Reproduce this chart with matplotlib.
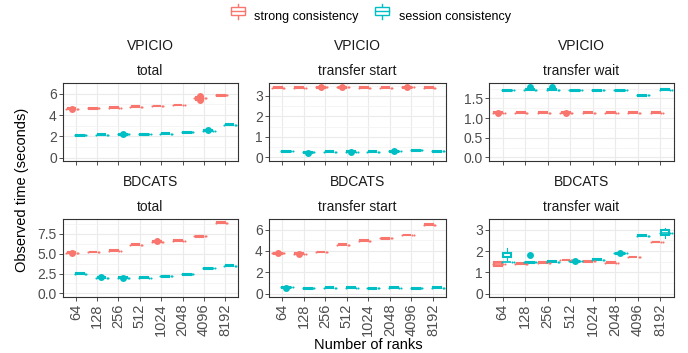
import numpy as np
import matplotlib
matplotlib.use("Agg")
import matplotlib.pyplot as plt
from matplotlib.patches import Rectangle
from matplotlib.lines import Line2D
from matplotlib.legend_handler import HandlerBase

plt.rcParams['font.family'] = ['Liberation Sans', 'DejaVu Sans']

ranks = ["64", "128", "256", "512", "1024", "2048", "4096", "8192"]
benchmarks = ["VPICIO", "VPICIO", "VPICIO", "BDCATS", "BDCATS", "BDCATS"]
metrics = ["total", "transfer start", "transfer wait",
           "total", "transfer start", "transfer wait"]
groups = ["strong consistency", "session consistency"]

# medians per facet (strong, session)
strong_med = [
    [4.6, 4.65, 4.7, 4.8, 4.85, 4.95, 5.6, 5.85],
    [3.4, 3.4, 3.42, 3.42, 3.4, 3.4, 3.42, 3.4],
    [1.13, 1.13, 1.13, 1.13, 1.13, 1.13, 1.13, 1.13],
    [5.1, 5.2, 5.35, 6.1, 6.5, 6.6, 7.2, 8.9],
    [3.8, 3.75, 3.9, 4.6, 4.95, 5.2, 5.5, 6.45],
    [1.4, 1.4, 1.45, 1.58, 1.52, 1.45, 1.72, 2.42],
]
session_med = [
    [2.1, 2.15, 2.2, 2.2, 2.25, 2.4, 2.55, 3.1],
    [0.3, 0.25, 0.28, 0.28, 0.28, 0.3, 0.35, 0.3],
    [1.7, 1.72, 1.72, 1.7, 1.7, 1.7, 1.58, 1.72],
    [2.5, 2.0, 2.0, 2.0, 2.15, 2.4, 3.15, 3.5],
    [0.6, 0.5, 0.55, 0.55, 0.5, 0.55, 0.5, 0.55],
    [1.48, 1.48, 1.5, 1.52, 1.6, 1.9, 2.72, 2.85],
]
# (facet, group, rank index) -> (q1, q3, whisker low, whisker high)
wide_boxes = {
    (5, 1, 0): (1.72, 1.9, 1.6, 2.15),
    (5, 1, 7): (2.75, 3.0, 2.6, 3.1),
    (5, 0, 0): (1.32, 1.5, 1.3, 1.52),
    (0, 0, 6): (5.45, 5.7, 5.3, 5.8),
}
# clusters of overlapping outliers: (facet, group, rank index, value)
blobs = [
    (0, 0, 0, 4.6), (0, 0, 6, 5.75), (0, 0, 6, 5.4), (0, 1, 2, 2.25), (0, 1, 6, 2.6),
    (1, 0, 2, 3.45), (1, 0, 3, 3.42), (1, 0, 6, 3.42), (1, 1, 1, 0.2),
    (1, 1, 3, 0.28), (1, 1, 5, 0.3),
    (2, 0, 0, 1.14), (2, 0, 3, 1.13), (2, 1, 1, 1.78), (2, 1, 2, 1.8),
    (3, 0, 0, 5.1), (3, 0, 4, 6.55), (3, 1, 1, 2.1), (3, 1, 2, 2.0),
    (4, 0, 0, 3.8), (4, 0, 1, 3.7), (4, 1, 0, 0.5),
    (5, 1, 1, 1.82), (5, 1, 3, 1.52), (5, 1, 5, 1.9),
]
yticks = [[0, 2, 4, 6], [0, 1, 2, 3], [0, 0.5, 1.0, 1.5],
          [0, 2.5, 5.0, 7.5], [0, 2, 4, 6], [0, 1, 2, 3]]
ytick_fmt = ["{:g}", "{:g}", "{:.1f}", "{:.1f}", "{:g}", "{:g}"]
ytops = [5.9, 3.45, 1.8, 8.9, 6.45, 3.1]

colors = ["#F8766D", "#00BFC4"]
W, H = 688, 353
col_x = [(63, 238), (269, 446), (489, 674)]
row_y = [(83, 161), (219, 297)]
dodge = [-0.2, 0.2]
dot_offsets = [0.24, 0.3]

fig = plt.figure(figsize=(W / 100, H / 100), dpi=100)


def add_panel(x0, x1, y0, y1):
    return fig.add_axes([x0 / W, 1 - y1 / H, (x1 - x0) / W, (y1 - y0) / H])


for f in range(6):
    r, c = divmod(f, 3)
    ax = add_panel(col_x[c][0], col_x[c][1], row_y[r][0], row_y[r][1])
    top = ytops[f]
    span = top * 1.1
    ax.set_ylim(-0.05 * top, 1.05 * top)
    ax.set_xlim(0.4, 8.6)
    xs = np.arange(1, 9)
    for g, meds in enumerate([strong_med[f], session_med[f]]):
        col = colors[g]
        stats = []
        for i, m in enumerate(meds):
            d = span * 0.006
            q1, q3, lo, hi = wide_boxes.get((f, g, i), (m - d, m + d, m - d, m + d))
            stats.append(dict(med=m, q1=q1, q3=q3, whislo=lo, whishi=hi, fliers=[]))
            for off in dot_offsets:
                ax.plot(xs[i] + dodge[g] + off, m, 'o', ms=1.5, color=col, mec='none', zorder=3)
            ax.plot(xs[i] + dodge[g] - 0.24, m, 'o', ms=1.5, color=col, mec='none', zorder=3)
        ax.bxp(stats, positions=xs + dodge[g], widths=0.36, showfliers=False,
               patch_artist=True, manage_ticks=False,
               boxprops=dict(facecolor="white", edgecolor=col, linewidth=1.5),
               medianprops=dict(color=col, linewidth=1.2),
               whiskerprops=dict(color=col, linewidth=0.8),
               capprops=dict(linewidth=0))
    for (bf, bg, bi, bv) in blobs:
        if bf == f:
            ax.plot(xs[bi] + dodge[bg], bv, 'o', ms=5, color=colors[bg], mec='none', zorder=4)

    ax.set_xticks(xs)
    ax.set_yticks(yticks[f])
    ax.set_yticklabels([ytick_fmt[f].format(v) for v in yticks[f]])
    minors = [(a + b) / 2 for a, b in zip(yticks[f][:-1], yticks[f][1:])]
    minors.append(yticks[f][-1] + (yticks[f][1] - yticks[f][0]) / 2)
    ax.set_yticks(minors, minor=True)
    ax.tick_params(axis='y', which='minor', length=0)
    ax.grid(True, which='major', color='#EBEBEB', lw=0.8)
    ax.grid(True, which='minor', axis='y', color='#F2F2F2', lw=0.5)
    ax.set_axisbelow(True)
    ax.tick_params(axis='both', which='major', length=3, width=0.6, color='#333333',
                   labelcolor='#4D4D4D', pad=1.5)
    ax.tick_params(axis='y', labelsize=10)
    ax.tick_params(axis='x', labelsize=10.5)
    if r == 1:
        ax.set_xticklabels(ranks, rotation=90)
    else:
        ax.set_xticklabels([])
    for s in ax.spines.values():
        s.set_color('#333333')
        s.set_linewidth(0.8)
    cx = (col_x[c][0] + col_x[c][1]) / 2 / W
    fig.text(cx, 1 - (row_y[r][0] - 37) / H, benchmarks[f], ha='center', va='center',
             fontsize=10, color='#1A1A1A')
    fig.text(cx, 1 - (row_y[r][0] - 12) / H, metrics[f], ha='center', va='center',
             fontsize=10, color='#1A1A1A')

fig.text(22 / W, 1 - 190 / H, "Observed time (seconds)", rotation=90, ha='center',
         va='center', fontsize=10.5)
fig.text(368 / W, 1 - 345 / H, "Number of ranks", ha='center', va='center', fontsize=10.5)


class BoxHandler(HandlerBase):
    def create_artists(self, legend, orig, xd, yd, w, h, fs, trans):
        col = orig.get_color()
        cx = xd + w / 2
        rect = Rectangle((xd + 0.1 * w, yd + 0.2 * h), 0.8 * w, 0.6 * h,
                         facecolor='white', edgecolor=col, lw=1, transform=trans)
        mid = Line2D([xd + 0.1 * w, xd + 0.9 * w], [yd + 0.5 * h] * 2, color=col, lw=1,
                     transform=trans)
        wl = Line2D([cx, cx], [yd - 0.1 * h, yd + 0.2 * h], color=col, lw=1, transform=trans)
        wh = Line2D([cx, cx], [yd + 0.8 * h, yd + 1.1 * h], color=col, lw=1, transform=trans)
        return [wl, wh, rect, mid]


handles = [Line2D([], [], color=col) for col in colors]
fig.legend(handles, groups, handler_map={Line2D: BoxHandler()}, loc='center',
           bbox_to_anchor=(370 / W, 1 - 16 / H), ncol=2, frameon=False, fontsize=9,
           handlelength=1.4, handleheight=1.2, columnspacing=1.2, handletextpad=0.6)

fig.savefig("out.png", dpi=100)
